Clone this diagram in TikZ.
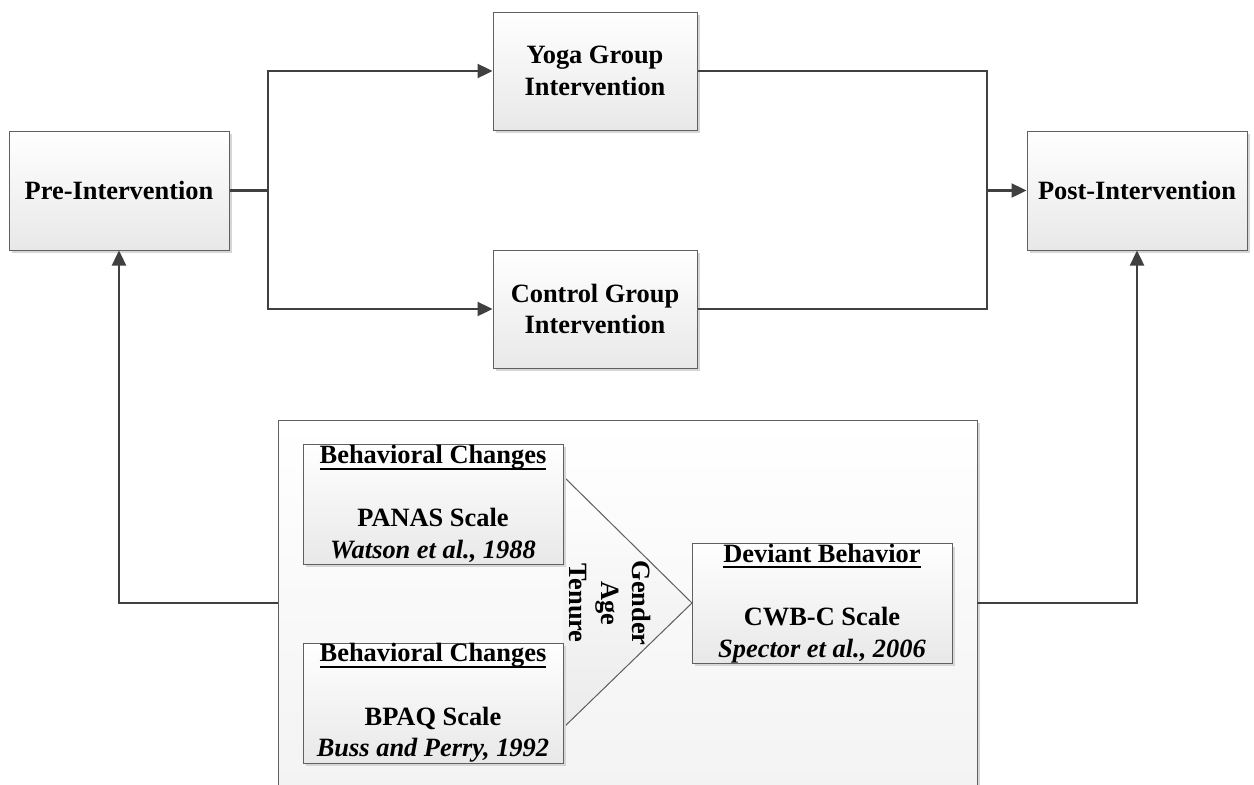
\documentclass[tikz,border=0pt]{standalone}
\usepackage{fontspec}
\setmainfont{Liberation Serif}
\usetikzlibrary{arrows.meta,shadows}
\definecolor{linec}{HTML}{404040}
\definecolor{boxc}{HTML}{606060}
\newcommand\myul[1]{{\setbox0\hbox{#1}\rlap{\rule[-6pt]{\wd0}{2pt}}\box0}}
\begin{document}
\begin{tikzpicture}[x=1pt,y=-1pt,
  txt/.style={font=\bfseries\fontsize{26.4}{31.7}\selectfont,align=center},
  box/.style={txt,draw=boxc,line width=1pt,top color=white,bottom color=black!9,inner sep=0pt,
    drop shadow={shadow xshift=3pt,shadow yshift=-3pt,fill=black!16,opacity=1}},
  conn/.style={draw=linec,line width=2.4pt},
  arr/.style={conn,-{Triangle[length=15pt,width=14pt]}}]
\path[use as bounding box] (0,0) rectangle (1254,785);
\clip (0,0) rectangle (1254,785);
\fill[white] (0,0) rectangle (1254,785);

% top row
\node[box,minimum width=220pt,minimum height=119pt] (pre) at (119,190.5) {Pre-Intervention};
\node[box,minimum width=204pt,minimum height=118pt] (yoga) at (595,71) {Yoga Group\\Intervention};
\node[box,minimum width=204pt,minimum height=118pt] (ctrl) at (595,309) {Control Group\\Intervention};
\node[box,minimum width=220pt,minimum height=119pt] (post) at (1137,190.5) {Post-Intervention};

% bottom container
\node[box,minimum width=699pt,minimum height=390pt,top color=white,bottom color=black!5] (big) at (627.5,615) {};
\coordinate (bl) at (278,603);
\coordinate (br) at (977,603);

% triangle
\coordinate (t1) at (563,476);
\coordinate (tip) at (692,603);
\coordinate (t2) at (563,728);
\fill[top color=white,bottom color=black!8] (t1) -- (tip) -- (t2) -- cycle;
\draw[boxc,line width=1pt] (t1) -- (tip) -- (t2);
\node[txt,rotate=-90] (gat) at (610,603) {Gender\\Age\\Tenure};

\node[box,minimum width=260pt,minimum height=120pt] (bc1) at (433,504)
  {\myul{Behavioral Changes}\\[31.7pt]PANAS Scale\\\textit{Watson et al., 1988}};
\node[box,minimum width=260pt,minimum height=120pt] (bc2) at (433,703)
  {\myul{Behavioral Changes}\\[31.7pt]BPAQ Scale\\\textit{Buss and Perry, 1992}};
\node[box,minimum width=260pt,minimum height=119pt] (dev) at (822,603.5)
  {\myul{Deviant Behavior}\\[31.7pt]CWB-C Scale\\\textit{Spector et al., 2006}};

% connectors
\coordinate (split) at (268,190.5);
\coordinate (merge) at (987,190.5);
\draw[conn] (pre.east) -- (split);
\draw[arr] (split) |- (yoga.west);
\draw[arr] (split) |- (ctrl.west);
\draw[conn] (yoga.east) -| (merge);
\draw[conn] (ctrl.east) -| (merge);
\draw[arr] (merge) -- (post.west);
\draw[arr] (bl) -| (pre.south);
\draw[arr] (br) -| (post.south);
\end{tikzpicture}
\end{document}
